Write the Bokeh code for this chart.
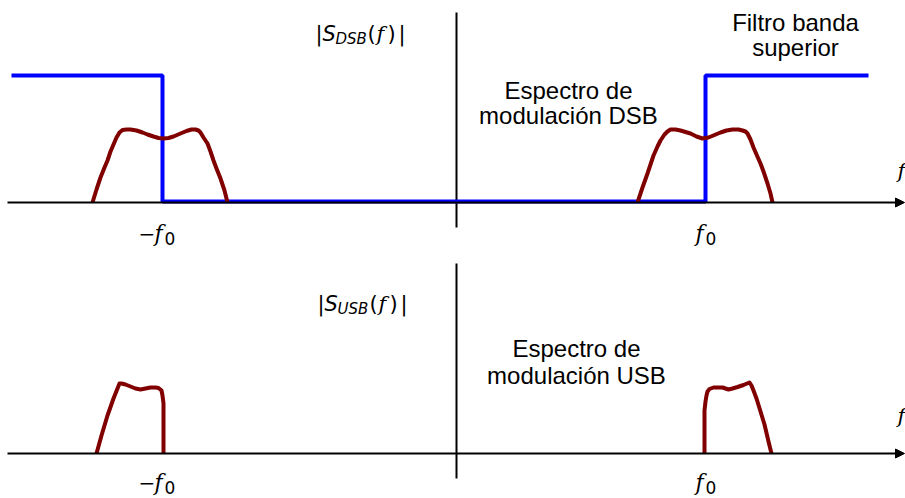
from bokeh.plotting import figure
from bokeh.layouts import column
from bokeh.models import Range1d, Arrow, NormalHead
from bokeh.core.properties import value
from bokeh.embed import file_html
from bokeh.resources import INLINE

# Frequency axis (0 at the vertical axis), amplitude above baseline
f0_pos = 249
f0_neg = -294

# Upper-sideband filter (blue)
filter_f = [-445, -294, -294, 249, 249, 412]
filter_a = [127, 127, 1, 1, 127, 127]

# DSB spectrum (two lobes)
dsb_left_f = [-364, -360, -356, -352, -349, -346, -343, -340, -337, -334, -330, -326, -320, -314, -309,
              -303, -298, -293, -288, -283, -276, -270, -265, -261, -258, -256, -253, -249, -246, -243,
              -240, -236, -232, -229]
dsb_left_a = [0, 13, 25, 35, 42, 51, 58, 65, 70, 72.5, 73, 73, 72, 70, 68,
              66, 64.5, 64, 64.5, 66, 69, 71.5, 73, 73, 72, 70, 65, 59, 51, 42,
              34, 24, 12, 0]
dsb_right_f = [181, 186, 191, 194, 197, 201, 204, 208, 211, 214, 219, 224, 229, 234, 240, 246, 252, 258,
               264, 270, 276, 282, 286, 289, 291, 294, 297, 300, 304, 307, 311, 314, 316]
dsb_right_a = [0, 15, 29, 38, 47, 56, 62, 68, 71, 73, 73, 72, 70.5, 69, 66, 64, 65, 67.5,
               70, 72, 73, 73, 72, 71, 69, 63, 55, 48, 39, 31, 19, 9, 0]

# USB spectrum
usb_left_f = [-360, -355, -349, -343, -339, -337, -335, -331, -326, -321, -316, -311, -306, -301, -298,
              -295, -294, -293, -293, -293]
usb_left_a = [0, 18, 38, 55, 65, 70, 70, 69, 67, 65, 64, 65, 66, 66, 65.5, 63, 58, 50, 30, 0]
usb_right_f = [248, 248, 248, 249, 250, 251, 253, 257, 262, 266, 269, 272, 276, 281, 287, 293, 295, 297,
               300, 304, 308, 312, 315]
usb_right_a = [0, 20, 43, 52, 58, 62, 64.5, 66, 66, 66, 65, 64, 65, 66.5, 68.5, 71, 68, 63,
               55, 42, 29, 12, 0]

BLUE = "#0000FF"
MAROON = "#800000"
W = 905
LS = "Liberation Sans"
RAISE = 9  # correction for alphabetic baseline placement


def make_fig(height, ymin, ymax):
    p = figure(width=W, height=height, x_range=Range1d(-456, 449), y_range=Range1d(ymin, ymax),
               output_backend="svg", toolbar_location=None, min_border=0)
    p.axis.visible = False
    p.grid.visible = False
    p.outline_line_color = None
    p.background_fill_color = "white"
    return p


def txt(p, x, y, s, size, font="DejaVu Sans", style="normal", align="left", baseline="alphabetic"):
    if baseline == "alphabetic":
        y = y + RAISE
    p.text(x=[x], y=[y], text=[s], text_font=value(font), text_font_size=f"{size}px",
           text_font_style=style, text_align=align, text_baseline=baseline, text_color="black")


def axes(p, fy):
    p.segment(x0=[0], y0=[-25], x1=[0], y1=[190], line_color="black", line_width=2)
    p.add_layout(Arrow(x_start=-449, y_start=0, x_end=448, y_end=0, line_color="black", line_width=2,
                       end=NormalHead(size=9, fill_color="black", line_color="black", line_width=1)))
    txt(p, 441, fy, "f", 21, font="DejaVu Serif", style="italic")


def s_label(p, dx, yb, sub):
    txt(p, -141 + dx, yb, "|", 21)
    txt(p, -134 + dx, yb, "S", 21, style="italic")
    txt(p, -121 + dx, yb - 5, sub, 15, style="italic")
    txt(p, -89 + dx, yb, "(", 21)
    txt(p, -80 + dx, yb, "f", 21, font="DejaVu Serif", style="italic")
    txt(p, -69 + dx, yb, ")", 21)
    txt(p, -58 + dx, yb, "|", 21)


def f0_labels(p, yb):
    txt(p, f0_neg - 24, yb, "\u2212", 20)
    txt(p, f0_neg - 8, yb, "f", 22, font="DejaVu Serif", style="italic")
    txt(p, f0_neg + 2, yb - 5, "0", 17)
    txt(p, f0_pos - 10, yb, "f", 22, font="DejaVu Serif", style="italic")
    txt(p, f0_pos + 0, yb - 5, "0", 17)


# ---- top panel ----
p1 = make_fig(255, -53, 202)
axes(p1, 23)
p1.line(filter_f, filter_a, line_color=BLUE, line_width=4)
p1.line(dsb_left_f, dsb_left_a, line_color=MAROON, line_width=4, line_join="round")
p1.line(dsb_right_f, dsb_right_a, line_color=MAROON, line_width=4, line_join="round")
s_label(p1, 0, 160, "DSB")
f0_labels(p1, -40)
txt(p1, 339, 180, "Filtro banda", 24, font=LS, align="center", baseline="middle")
txt(p1, 339, 155, "superior", 24, font=LS, align="center", baseline="middle")
txt(p1, 112, 112, "Espectro de", 24, font=LS, align="center", baseline="middle")
txt(p1, 112, 87, "modulación DSB", 24, font=LS, align="center", baseline="middle")

# ---- bottom panel ----
p2 = make_fig(243, -45, 198)
axes(p2, 29)
p2.line(usb_left_f, usb_left_a, line_color=MAROON, line_width=4, line_join="round")
p2.line(usb_right_f, usb_right_a, line_color=MAROON, line_width=4, line_join="round")
s_label(p2, 2, 141, "USB")
f0_labels(p2, -38)
txt(p2, 120, 105, "Espectro de", 24, font=LS, align="center", baseline="middle")
txt(p2, 120, 78, "modulación USB", 24, font=LS, align="center", baseline="middle")

layout = column(p1, p2, spacing=0)
open("out.html", "w").write(file_html(layout, INLINE))
